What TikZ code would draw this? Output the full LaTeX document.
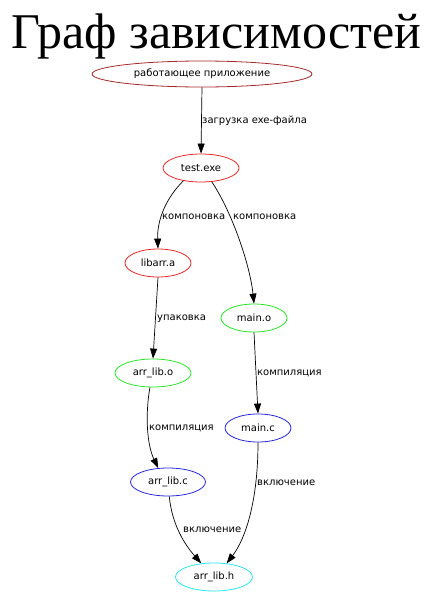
\documentclass[tikz,border=0pt]{standalone}
\usepackage{fontspec}
\setmainfont{Liberation Serif}
\newfontfamily\lblfont{DejaVu Sans}
\usetikzlibrary{shapes.geometric,arrows.meta}
\definecolor{gbrown}{RGB}{165,42,42}
\definecolor{gred}{RGB}{230,40,40}
\definecolor{ggreen}{RGB}{40,230,40}
\definecolor{gblue}{RGB}{40,40,220}
\definecolor{gcyan}{RGB}{40,230,240}
\begin{document}
\begin{tikzpicture}[x=1pt,y=-1pt,
  gnode/.style={ellipse, draw, text=black, line width=0.8pt, inner sep=0pt, minimum height=28pt,
    font=\lblfont\fontsize{10}{12}\selectfont},
  gedge/.style={draw, line width=0.7pt, -{Triangle[length=10pt,width=7pt]}},
  elabel/.style={anchor=base west, inner sep=0pt, font=\lblfont\fontsize{10}{12}\selectfont}]
\useasboundingbox (0,0) rectangle (433,600);
\node[anchor=base, inner sep=0pt, font=\fontsize{50}{56}\selectfont] (title) at (216.5,48) {Граф зависимостей};

\node[gnode, draw=gbrown, minimum width=220pt, minimum height=26pt] (app) at (202,74) {работающее приложение};
\node[gnode, draw=gred, minimum width=76pt] (exe) at (201,168) {test.exe};
\node[gnode, draw=gred, minimum width=66pt] (liba) at (158,263) {libarr.a};
\node[gnode, draw=ggreen, minimum width=66pt] (maino) at (254,318) {main.o};
\node[gnode, draw=ggreen, minimum width=76pt] (libo) at (153,373) {arr\_lib.o};
\node[gnode, draw=gblue, minimum width=66pt] (mainc) at (258,428) {main.c};
\node[gnode, draw=gblue, minimum width=75pt] (libc) at (168,482) {arr\_lib.c};
\node[gnode, draw=gcyan, minimum width=77pt] (libh) at (214,577) {arr\_lib.h};

\draw[gedge] (app.south) -- (exe.north);
\draw[gedge] (exe.216) .. controls (166,198) and (157,220) .. (liba.north);
\draw[gedge] (exe.-52) .. controls (232,212) and (250,265) .. (maino.north);
\draw[gedge] (liba.south) -- (libo.north);
\draw[gedge] (maino.south) -- (mainc.north);
\draw[gedge] (libo.258) .. controls (145,415) and (147,445) .. (libc.125);
\draw[gedge] (libc.-85) .. controls (172,525) and (185,545) .. (libh.133);
\draw[gedge] (mainc.south) .. controls (258,500) and (246,538) .. (libh.47);

\node[elabel] (l1) at (202,123.5) {загрузка exe-файла};
\node[elabel] (l2) at (162,219.5) {компоновка};
\node[elabel] (l3) at (233,219.5) {компоновка};
\node[elabel] (l4) at (157,320.5) {упаковка};
\node[elabel] (l5) at (257,375.5) {компиляция};
\node[elabel] (l6) at (149,430.5) {компиляция};
\node[elabel] (l7) at (183,532.5) {включение};
\node[elabel] (l8) at (257,485.5) {включение};
\end{tikzpicture}
\end{document}
